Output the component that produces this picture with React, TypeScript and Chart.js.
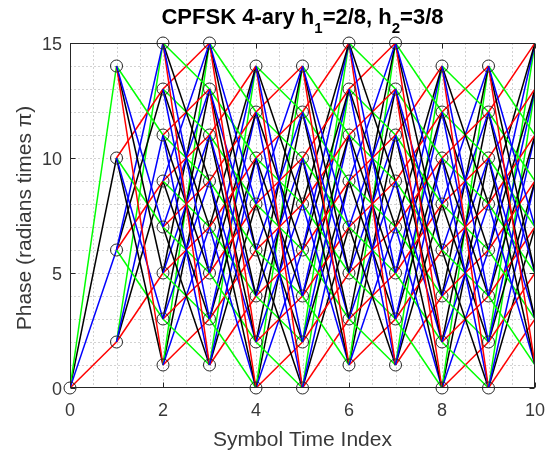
import React, { useEffect, useRef } from "react";
import { Chart, registerables } from "chart.js";

Chart.register(...registerables);

// ---- data ----
const timeIndex = [0, 1, 2, 3, 4, 5, 6, 7, 8, 9, 10];
const modIndexNumerators = [2, 3]; // h1 = 2/8, h2 = 3/8 (alternating per symbol)
const phaseModulus = 16; // phase states wrap at 16
const symbols = [-3, -1, 1, 3];
const symbolColors = ["#000000", "#00ff00", "#ff0000", "#0000ff"];

const statesT0 = [0];
const statesT1 = [2, 6, 10, 14];
const statesT2 = [1, 3, 5, 7, 9, 11, 13, 15];
const statesT3 = [1, 3, 5, 7, 9, 11, 13, 15];
const statesT4 = [0, 2, 4, 6, 8, 10, 12, 14];
const statesT5 = [0, 2, 4, 6, 8, 10, 12, 14];
const statesT6 = [1, 3, 5, 7, 9, 11, 13, 15];
const statesT7 = [1, 3, 5, 7, 9, 11, 13, 15];
const statesT8 = [0, 2, 4, 6, 8, 10, 12, 14];
const statesT9 = [0, 2, 4, 6, 8, 10, 12, 14];
const statesT10 = [1, 3, 5, 7, 9, 11, 13, 15];
const phaseStates = [statesT0, statesT1, statesT2, statesT3, statesT4, statesT5, statesT6, statesT7, statesT8, statesT9, statesT10];
const markerTimes = [0, 1, 2, 3, 4, 5, 6, 7, 8, 9];

const xTicks = [0, 2, 4, 6, 8, 10];
const yTicks = [0, 5, 10, 15];
const xGrid = [0.5, 1, 1.5, 2, 2.5, 3, 3.5, 4, 4.5, 5, 5.5, 6, 6.5, 7, 7.5, 8, 8.5, 9, 9.5];
const yGrid = [1, 2, 3, 4, 5, 6, 7, 8, 9, 10, 11, 12, 13, 14];

const titleParts = [
  { text: "CPFSK 4-ary h", sub: false },
  { text: "1", sub: true },
  { text: "=2/8, h", sub: false },
  { text: "2", sub: true },
  { text: "=3/8", sub: false },
];
const xLabel = "Symbol Time Index";
const yLabel = "Phase (radians times \u03c0)";

const FONT = "'Liberation Sans', Arial, Helvetica, sans-serif";
const AXIS_COLOR = "#262626";
const TEXT_COLOR = "#383838";

const axesPlugin = {
  id: "matlabAxes",
  beforeDatasetsDraw(chart: any) {
    const { ctx, chartArea: a, scales } = chart;
    const x = scales.x, y = scales.y;
    ctx.save();
    ctx.lineWidth = 1;
    ctx.strokeStyle = "#d2d2d2";
    ctx.setLineDash([2, 2]);
    for (const v of xGrid) {
      const px = Math.round(x.getPixelForValue(v)) + 0.5;
      ctx.beginPath();
      ctx.moveTo(px, a.top);
      ctx.lineTo(px, a.bottom);
      ctx.stroke();
    }
    for (const v of yGrid) {
      const py = Math.round(y.getPixelForValue(v)) + 0.5;
      ctx.beginPath();
      ctx.moveTo(a.left, py);
      ctx.lineTo(a.right, py);
      ctx.stroke();
    }
    ctx.restore();
  },
  afterDatasetsDraw(chart: any) {
    const { ctx, chartArea: a, scales } = chart;
    const x = scales.x, y = scales.y;
    ctx.save();
    ctx.setLineDash([]);
    ctx.strokeStyle = AXIS_COLOR;
    ctx.lineWidth = 1;
    const L = Math.round(a.left) + 0.5, R = Math.round(a.right) - 0.5;
    const T = Math.round(a.top) + 0.5, B = Math.round(a.bottom) - 0.5;
    ctx.strokeRect(L, T, R - L, B - T);
    const tl = 5;
    ctx.beginPath();
    for (const v of xTicks) {
      const px = Math.round(x.getPixelForValue(v)) + 0.5;
      ctx.moveTo(px, B); ctx.lineTo(px, B - tl);
      ctx.moveTo(px, T); ctx.lineTo(px, T + tl);
    }
    for (const v of yTicks) {
      const py = Math.round(y.getPixelForValue(v)) + 0.5;
      ctx.moveTo(L, py); ctx.lineTo(L + tl, py);
      ctx.moveTo(R, py); ctx.lineTo(R - tl, py);
    }
    ctx.stroke();

    // tick labels
    ctx.fillStyle = TEXT_COLOR;
    ctx.font = `18px ${FONT}`;
    ctx.textBaseline = "alphabetic";
    ctx.textAlign = "center";
    for (const v of xTicks) {
      ctx.fillText(String(v), x.getPixelForValue(v), a.bottom + 28);
    }
    ctx.textAlign = "right";
    for (const v of yTicks) {
      ctx.fillText(String(v), a.left - 8, y.getPixelForValue(v) + 7);
    }

    // axis labels
    ctx.font = `21px ${FONT}`;
    ctx.textAlign = "center";
    const cx = (a.left + a.right) / 2;
    ctx.fillText(xLabel, cx, 446);
    ctx.save();
    ctx.translate(31, 218);
    ctx.rotate(-Math.PI / 2);
    ctx.fillText(yLabel, 0, 0);
    ctx.restore();

    // title with subscripts
    const mainFont = `bold 22px ${FONT}`;
    const subFont = `bold 15px ${FONT}`;
    let total = 0;
    const widths = titleParts.map((p) => {
      ctx.font = p.sub ? subFont : mainFont;
      const w = ctx.measureText(p.text).width;
      total += w;
      return w;
    });
    let sx = cx - total / 2;
    ctx.fillStyle = "#000000";
    ctx.textAlign = "left";
    titleParts.forEach((p, i) => {
      ctx.font = p.sub ? subFont : mainFont;
      ctx.fillText(p.text, sx, p.sub ? 33 : 23.5);
      sx += widths[i];
    });
    ctx.restore();
  },
};

function buildEdgeDatasets() {
  const edges: any[] = [];
  for (let t = 0; t < timeIndex.length - 1; t++) {
    const h = modIndexNumerators[t % modIndexNumerators.length];
    const next = phaseStates[t + 1];
    for (const s of phaseStates[t]) {
      symbols.forEach((sym, k) => {
        const target = (((s + h * sym) % phaseModulus) + phaseModulus) % phaseModulus;
        if (!next.includes(target)) return;
        edges.push({
          type: "scatter",
          data: [
            { x: timeIndex[t], y: s },
            { x: timeIndex[t + 1], y: target },
          ],
          showLine: true,
          borderColor: symbolColors[k],
          backgroundColor: symbolColors[k],
          borderWidth: 1.5,
          pointRadius: 0,
          pointHoverRadius: 0,
        });
      });
    }
  }
  const n = edges.length;
  edges.forEach((e, i) => (e.order = n - i));
  return edges;
}

function buildMarkerDataset() {
  const pts: { x: number; y: number }[] = [];
  for (const t of markerTimes) {
    for (const s of phaseStates[t]) pts.push({ x: timeIndex[t], y: s });
  }
  return {
    type: "scatter",
    data: pts,
    showLine: false,
    pointRadius: 6,
    pointStyle: "circle",
    pointBorderColor: "#262626",
    pointBackgroundColor: "rgba(0,0,0,0)",
    pointBorderWidth: 1,
    borderColor: "#262626",
    backgroundColor: "rgba(0,0,0,0)",
    clip: false,
    order: -1,
  };
}

export default function App() {
  const ref = useRef<HTMLCanvasElement>(null);
  useEffect(() => {
    if (!ref.current) return;
    const chart = new Chart(ref.current, {
      type: "scatter",
      data: { datasets: [buildMarkerDataset(), ...buildEdgeDatasets()] as any },
      options: {
        animation: false,
        responsive: false,
        events: [],
        layout: { padding: { left: 70, top: 43, right: 15, bottom: 62 } },
        plugins: { legend: { display: false }, tooltip: { enabled: false }, title: { display: false } },
        scales: {
          x: { type: "linear", min: 0, max: 10, display: false },
          y: { type: "linear", min: 0, max: 15, display: false },
        },
      },
      plugins: [axesPlugin],
    });
    return () => chart.destroy();
  }, []);
  return (
    <div style={{ position: "absolute", left: 0, top: 0, width: 550, height: 450, background: "#fff" }}>
      <canvas ref={ref} width={550} height={450} />
    </div>
  );
}
